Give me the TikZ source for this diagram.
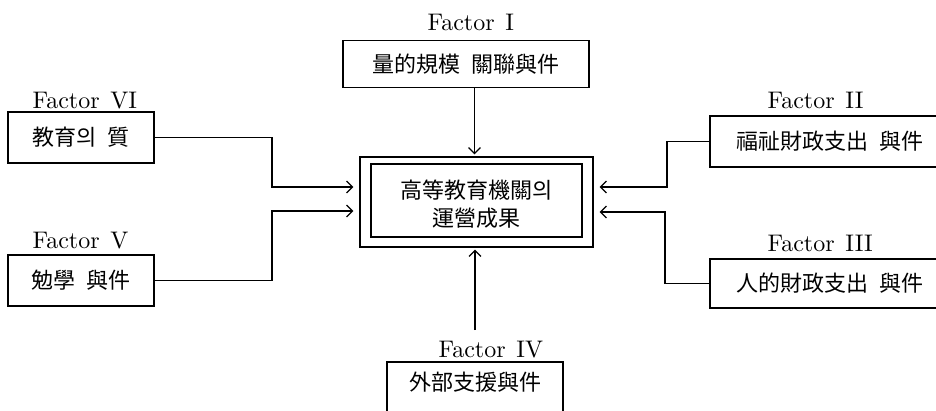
\documentclass[tikz,border=0pt]{standalone}
\usepackage{fontspec}
\newfontfamily\kr{Noto Sans CJK KR}
\newfontfamily\labfont{lmroman10-regular}[Extension=.otf]
\usetikzlibrary{arrows.meta}
\begin{document}
\begin{tikzpicture}[x=1pt,y=-1pt,line width=1.2pt,
  cjk/.style={font=\kr\fontsize{22}{28}\selectfont},
  box/.style={draw,cjk,minimum height=51pt,inner sep=0pt},
  lab/.style={font=\labfont\fontsize{24}{28}\selectfont,anchor=base west,inner sep=0pt},
  arr/.style={-{Straight Barb[length=6pt,width=12pt]}}]
\useasboundingbox (0,0) rectangle (936,411);
\clip (0,0) rectangle (936,411);
% factor boxes
\node[box,minimum width=246pt,minimum height=47pt] (f1) at (466,64) {量的規模\hspace{.5em}關聯與件};
\node[box,minimum width=146pt] (f6) at (81,137.5) {教育의\hspace{.5em}質};
\node[box,minimum width=146pt] (f5) at (81,280.5) {勉學\hspace{.5em}與件};
\node[box,minimum width=240pt] (f2) at (830,141.5) {福祉財政支出\hspace{.5em}與件};
\node[box,minimum width=240pt,minimum height=49pt] (f3) at (830,283.5) {人的財政支出\hspace{.5em}與件};
\node[cjk,inner sep=0pt] (f4) at (475,382) {外部支援與件};
\draw (f4.center) ++(-88,30) -- ++(0,-50) -- ++(176,0) -- ++(0,50);
% labels
\node[lab] (l1) at (427,31) {Factor\hspace{.45em}I};
\node[lab] (l6) at (32,109) {Factor\hspace{.45em}VI};
\node[lab] (l5) at (32,249) {Factor\hspace{.45em}V};
\node[lab] (l2) at (767,109) {Factor\hspace{.45em}II};
\node[lab] (l3) at (767,252) {Factor\hspace{.45em}III};
\node[lab] (l4) at (438,357) {Factor\hspace{.45em}IV};
% center
\node[draw,minimum width=233pt,minimum height=90pt,inner sep=0pt] (c) at (476.5,202) {};
\node[draw,minimum width=211pt,minimum height=73pt,inner sep=0pt] (ci) at (476.5,200.5) {};
\node[cjk,align=center,inner sep=0pt] (ct) at (476.5,204) {高等教育機關의\\運營成果};
% connectors
\coordinate (a6) at (272,187);
\coordinate (a5) at (272,211);
\coordinate (a2) at (667,187);
\coordinate (a3) at (665,212);
\coordinate (s4) at (475,330);
\draw[arr,shorten >=6pt] (f6.east) -| (a6) -- (a6 -| c.west);
\draw[arr,shorten >=6pt] (f5.east) -| (a5) -- (a5 -| c.west);
\draw[arr,shorten >=6pt] (f2.west) -| (a2) -- (a2 -| c.east);
\draw[arr,shorten >=6pt] (f3.west) -| (a3) -- (a3 -| c.east);
\draw[arr,shorten >=2pt] ([xshift=-2pt]f1.south -| c.north) -- ([xshift=-2pt]c.north);
\draw[arr,shorten >=2pt] (s4) -- (s4 |- c.south);
\end{tikzpicture}
\end{document}
